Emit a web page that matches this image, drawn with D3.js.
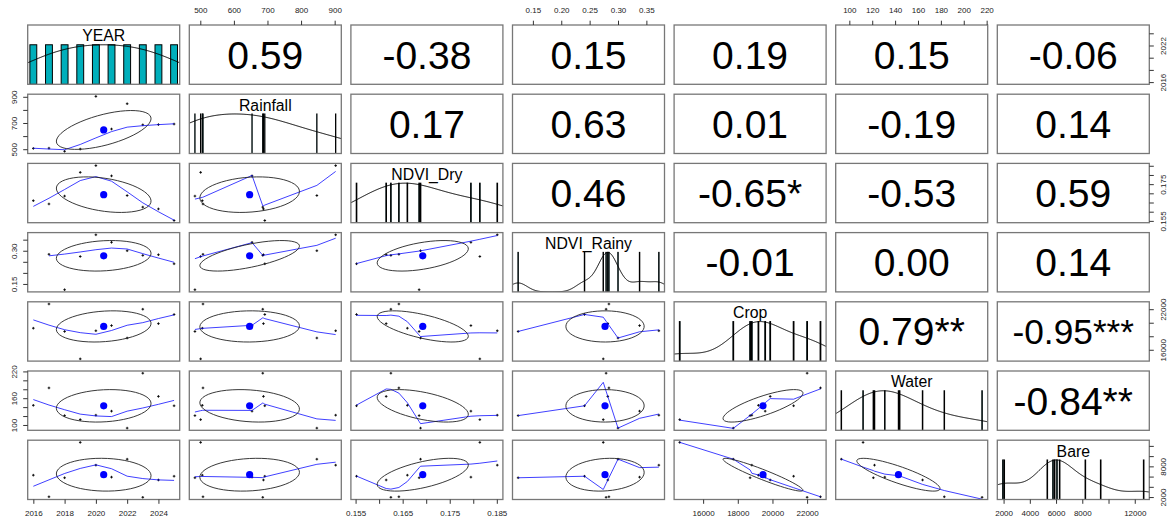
<html>
<head>
<script src="https://d3js.org/d3.v7.min.js"></script>
<style>
  body { margin: 0; background: #ffffff; }
  text { font-family: "Liberation Sans", Arial, sans-serif; }
</style>
</head>
<body>
<script>
// values, one per year (NDVI_Rainy has no 2016 value)
var varNames = ["YEAR", "Rainfall", "NDVI_Dry", "NDVI_Rainy", "Crop", "Water", "Bare"];
var year = [2016, 2017, 2018, 2019, 2020, 2021, 2022, 2023, 2024, 2025];
var rainfall = [506, 508, 484, 501, 903, 654, 847, 686, 688, 692];
var ndviDry = [0.1660, 0.1642, 0.1685, 0.1814, 0.1851, 0.1795, 0.1688, 0.1625, 0.1615, 0.1552];
var ndviRainy = [null, 0.284, 0.124, 0.274, 0.372, 0.338, 0.300, 0.279, 0.282, 0.241];
var crop = [19190, 22770, 18710, 14650, 18810, 19580, 17740, 22000, 19870, 21220];
var water = [144, 183, 121, 112, 122, 131, 93, 216, 164, 143];
var bare = [6275, 2050, 5766, 12680, 8234, 5893, 9404, 1950, 5333, 6071];

// correlation labels of the upper panels, row by row
var corYear = ["0.59", "-0.38", "0.15", "0.19", "0.15", "-0.06"];
var corRainfall = ["0.17", "0.63", "0.01", "-0.19", "0.14"];
var corNdviDry = ["0.46", "-0.65*", "-0.53", "0.59"];
var corNdviRainy = ["-0.01", "0.00", "0.14"];
var corCrop = ["0.79**", "-0.95***"];
var corWater = ["-0.84**"];

// axis ticks, labels on horizontal axes, labels on vertical axes
var yearTicks = [2016, 2018, 2020, 2022, 2024];
var yearLabH = ["2016", "2018", "2020", "2022", "2024"];
var yearLabV = ["2016", "", "", "2022", ""];
var rainTicks = [500, 600, 700, 800, 900];
var rainLabH = ["500", "600", "700", "800", "900"];
var rainLabV = ["500", "", "700", "", "900"];
var dryTicks = [0.155, 0.160, 0.165, 0.170, 0.175, 0.180, 0.185];
var dryLabH = ["0.155", "", "0.165", "", "0.175", "", "0.185"];
var dryLabV = ["0.155", "", "", "", "0.175", "", ""];
var rainyTicks = [0.15, 0.20, 0.25, 0.30, 0.35];
var rainyLabH = ["0.15", "0.20", "0.25", "0.30", "0.35"];
var rainyLabV = ["0.15", "", "", "0.30", ""];
var cropTicks = [16000, 18000, 20000, 22000];
var cropLabH = ["16000", "18000", "20000", "22000"];
var cropLabV = ["16000", "", "", "22000"];
var waterTicks = [100, 120, 140, 160, 180, 200, 220];
var waterLabH = ["100", "120", "140", "160", "180", "200", "220"];
var waterLabV = ["100", "", "", "160", "", "", "220"];
var bareTicks = [2000, 4000, 6000, 8000, 10000, 12000];
var bareLabH = ["2000", "4000", "6000", "8000", "", "12000"];
var bareLabV = ["2000", "", "", "8000", "", ""];

var histCol = "#00AFBB";
var smoothCol = "#0000FF";

var vars = [
  {name: varNames[0], v: year, ticks: yearTicks, labH: yearLabH, labV: yearLabV},
  {name: varNames[1], v: rainfall, ticks: rainTicks, labH: rainLabH, labV: rainLabV},
  {name: varNames[2], v: ndviDry, ticks: dryTicks, labH: dryLabH, labV: dryLabV},
  {name: varNames[3], v: ndviRainy, ticks: rainyTicks, labH: rainyLabH, labV: rainyLabV},
  {name: varNames[4], v: crop, ticks: cropTicks, labH: cropLabH, labV: cropLabV},
  {name: varNames[5], v: water, ticks: waterTicks, labH: waterLabH, labV: waterLabV},
  {name: varNames[6], v: bare, ticks: bareTicks, labH: bareLabH, labV: bareLabV}
];
var corRows = [corYear, corRainfall, corNdviDry, corNdviRainy, corCrop, corWater];

var width = 1168, height = 522;
var left0 = 27.7, top0 = 25, pw = 152, ph = 59.3, stepX = 161.6, stepY = 69.2;
var nv = vars.length;
var panelX = function(i) { return left0 + i * stepX; };
var panelY = function(j) { return top0 + j * stepY; };

var clean = function(a) { return a.filter(function(d) { return d !== null; }); };
var ext = function(a) {
  var e = d3.extent(clean(a)), r = e[1] - e[0];
  return [e[0] - 0.04 * r, e[1] + 0.04 * r];
};

var xScales = vars.map(function(d, i) {
  return d3.scaleLinear().domain(ext(d.v)).range([panelX(i), panelX(i) + pw]);
});
var yScales = vars.map(function(d, j) {
  return d3.scaleLinear().domain(ext(d.v)).range([panelY(j) + ph, panelY(j)]);
});

// R-style lowess (clowess)
var lowess = function(xs0, ys0, f, iter) {
  var idx = d3.range(xs0.length).sort(function(a, b) { return xs0[a] - xs0[b]; });
  var x = idx.map(function(k) { return xs0[k]; });
  var y = idx.map(function(k) { return ys0[k]; });
  var n = x.length;
  var range = x[n - 1] - x[0];
  var delta = 0.01 * range;
  var ns = Math.max(Math.min(Math.floor(f * n + 1e-7), n), 2);
  var ys = new Array(n).fill(0), rw = new Array(n).fill(1), res = new Array(n).fill(0);
  var w = new Array(n).fill(0);
  var lowest = function(xs, nleft, nright, userw) {
    var h = Math.max(xs - x[nleft], x[nright] - xs);
    var h9 = 0.999 * h, h1 = 0.001 * h, a = 0, j = nleft;
    while (j < n) {
      w[j] = 0;
      var r = Math.abs(x[j] - xs);
      if (r <= h9) {
        if (r <= h1) w[j] = 1;
        else w[j] = Math.pow(1 - Math.pow(r / h, 3), 3);
        if (userw) w[j] *= rw[j];
        a += w[j];
      } else if (x[j] > xs) break;
      j++;
    }
    var nrt = j - 1;
    if (a <= 0) return null;
    for (j = nleft; j <= nrt; j++) w[j] /= a;
    if (h > 0) {
      a = 0;
      for (j = nleft; j <= nrt; j++) a += w[j] * x[j];
      var b = xs - a, c = 0;
      for (j = nleft; j <= nrt; j++) c += w[j] * (x[j] - a) * (x[j] - a);
      if (Math.sqrt(c) > 0.001 * range) {
        b /= c;
        for (j = nleft; j <= nrt; j++) w[j] *= (b * (x[j] - a) + 1);
      }
    }
    var out = 0;
    for (j = nleft; j <= nrt; j++) out += w[j] * y[j];
    return out;
  };
  for (var it = 1; it <= iter + 1; it++) {
    var nleft = 0, nright = ns - 1, last = -1, i = 0;
    for (;;) {
      while (nright < n - 1) {
        var d1 = x[i] - x[nleft], d2 = x[nright + 1] - x[i];
        if (d1 <= d2) break;
        nleft++; nright++;
      }
      var v = lowest(x[i], nleft, nright, it > 1);
      ys[i] = v === null ? y[i] : v;
      if (last < i - 1) {
        var denom = x[i] - x[last];
        for (var j = last + 1; j < i; j++) {
          var alpha = (x[j] - x[last]) / denom;
          ys[j] = alpha * ys[i] + (1 - alpha) * ys[last];
        }
      }
      last = i;
      var cut = x[last] + delta;
      for (i = last + 1; i < n; i++) {
        if (x[i] > cut) break;
        if (x[i] === x[last]) { ys[i] = ys[last]; last = i; }
      }
      i = Math.max(last + 1, i - 1);
      if (last >= n - 1) break;
    }
    for (var k = 0; k < n; k++) res[k] = y[k] - ys[k];
    if (it > iter) break;
    var sc = d3.sum(res, function(r) { return Math.abs(r); }) / n;
    var cmad = 6 * d3.median(res.map(Math.abs));
    if (cmad < 1e-7 * sc) break;
    var c9 = 0.999 * cmad, c1 = 0.001 * cmad;
    for (k = 0; k < n; k++) {
      var rr = Math.abs(res[k]);
      rw[k] = rr <= c1 ? 1 : (rr <= c9 ? Math.pow(1 - Math.pow(rr / cmad, 2), 2) : 0);
    }
  }
  return x.map(function(xx, k) { return [xx, ys[k]]; });
};

// gaussian density, bw "nrd" with adjust 1.2 as pairs.panels asks for
var density = function(a) {
  var s = a.slice().sort(d3.ascending);
  var n = s.length;
  var sd = d3.deviation(s);
  var iqr = d3.quantileSorted(s, 0.75) - d3.quantileSorted(s, 0.25);
  var lo = Math.min(sd, iqr / 1.34);
  var bw = 1.2 * 1.06 * lo * Math.pow(n, -0.2);
  var g0 = s[0] - 3 * bw, g1 = s[n - 1] + 3 * bw;
  var pts = d3.range(512).map(function(k) {
    var gx = g0 + (g1 - g0) * k / 511;
    var dy = d3.sum(s, function(xi) {
      var u = (gx - xi) / bw;
      return Math.exp(-0.5 * u * u);
    });
    return [gx, dy];
  });
  var m = d3.max(pts, function(p) { return p[1]; });
  return pts.map(function(p) { return [p[0], p[1] / m]; });
};

var svg = d3.select("body").append("svg")
  .attr("width", width)
  .attr("height", height);

var defs = svg.append("defs");

// size of the correlation text, fitted as in pairs.panels
var probe = svg.append("text").attr("font-size", 100).text("0.12***");
var refWidth = probe.node().getComputedTextLength();
probe.remove();

for (var j = 0; j < nv; j++) {
  for (var i = 0; i < nv; i++) {
    var px = panelX(i), py = panelY(j);
    var clipId = "clip" + j + "_" + i;
    defs.append("clipPath").attr("id", clipId)
      .append("rect").attr("x", px).attr("y", py).attr("width", pw).attr("height", ph);
    var g = svg.append("g").attr("clip-path", "url(#" + clipId + ")");

    if (i === j) {
      var vals = clean(vars[i].v);
      var xs = xScales[i];
      var hy = d3.scaleLinear().domain([0, 1.5]).range([py + ph, py]);
      var uniq = Array.from(new Set(vals)).sort(d3.ascending);
      var diffs = d3.pairs(uniq).map(function(p) { return p[1] - p[0]; });
      var ib = d3.min(diffs) * (uniq.length - 1) / 41;
      g.selectAll("rect.bar")
        .data(uniq)
        .enter()
        .append("rect")
        .attr("class", "bar")
        .attr("x", function(d) { return xs(d - ib); })
        .attr("y", hy(1))
        .attr("width", function(d) { return Math.max(xs(d + ib) - xs(d - ib), 0.01); })
        .attr("height", hy(0) - hy(1))
        .attr("fill", histCol)
        .attr("stroke", "#000")
        .attr("stroke-width", 1);
      var line = d3.line()
        .x(function(d) { return xs(d[0]); })
        .y(function(d) { return hy(d[1]); });
      g.append("path")
        .datum(density(vals))
        .attr("d", line)
        .attr("fill", "none")
        .attr("stroke", "#000")
        .attr("stroke-width", 1);
      svg.append("text")
        .attr("x", px + pw / 2)
        .attr("y", py + 10.8 + 0.358 * 15.8)
        .attr("text-anchor", "middle")
        .attr("font-size", 15.8)
        .attr("fill", "#000")
        .text(vars[i].name);
    } else if (i > j) {
      var txt = corRows[j][i - j - 1];
      var t = svg.append("text")
        .attr("x", px + pw / 2)
        .attr("text-anchor", "middle")
        .attr("font-size", 100)
        .attr("fill", "#000")
        .text(txt);
      var tw = t.node().getComputedTextLength();
      var fs = 0.8 * pw * 100 / Math.max(refWidth, tw);
      t.attr("font-size", fs)
        .attr("y", py + ph / 2 + 0.358 * fs);
    } else {
      var xsc = xScales[i], ysc = yScales[j];
      var xv = vars[i].v, yv = vars[j].v;
      var pairs = d3.range(xv.length)
        .filter(function(k) { return xv[k] !== null && yv[k] !== null; })
        .map(function(k) { return [xv[k], yv[k]]; });

      g.selectAll("path.pt")
        .data(pairs)
        .enter()
        .append("path")
        .attr("class", "pt")
        .attr("d", function(d) {
          var cx = xsc(d[0]), cy = ysc(d[1]);
          return "M" + (cx - 1.3) + "," + cy + "h2.6M" + cx + "," + (cy - 1.3) + "v2.6";
        })
        .attr("stroke", "#000")
        .attr("stroke-width", 0.9);

      var sm = lowess(pairs.map(function(p) { return p[0]; }), pairs.map(function(p) { return p[1]; }), 2 / 3, 3);
      g.append("path")
        .datum(sm)
        .attr("d", d3.line()
          .x(function(d) { return xsc(d[0]); })
          .y(function(d) { return ysc(d[1]); }))
        .attr("fill", "none")
        .attr("stroke", smoothCol)
        .attr("stroke-opacity", 0.75)
        .attr("stroke-width", 1);

      // correlation ellipse (one sd), as in psych::draw.ellipse
      var xm = d3.mean(clean(xv)), ym = d3.mean(clean(yv));
      var xsd = d3.deviation(clean(xv)), ysd = d3.deviation(clean(yv));
      var px2 = pairs.map(function(p) { return p[0]; }), py2 = pairs.map(function(p) { return p[1]; });
      var mx = d3.mean(px2), my = d3.mean(py2);
      var r = d3.sum(pairs, function(p) { return (p[0] - mx) * (p[1] - my); }) /
        Math.sqrt(d3.sum(px2, function(a) { return (a - mx) * (a - mx); }) * d3.sum(py2, function(b) { return (b - my) * (b - my); }));
      var theta = Math.abs(r) > 0 ? Math.sign(r) / Math.SQRT2 : 1 / Math.SQRT2;
      var ell = d3.range(52).map(function(k) {
        var ang = k * 2 * Math.PI / 51;
        var c = Math.cos(ang), s = Math.sin(ang);
        var ex = c * Math.sqrt(1 + r) * theta - s * Math.sqrt(1 - r) * theta;
        var ey = c * Math.sqrt(1 + r) * theta + s * Math.sqrt(1 - r) * theta;
        return [ex * xsd + xm, ey * ysd + ym];
      });
      g.append("circle")
        .attr("cx", xsc(xm))
        .attr("cy", ysc(ym))
        .attr("r", 3.6)
        .attr("fill", smoothCol);
      g.append("path")
        .datum(ell)
        .attr("d", d3.line()
          .x(function(d) { return xsc(d[0]); })
          .y(function(d) { return ysc(d[1]); }))
        .attr("fill", "none")
        .attr("stroke", "#222")
        .attr("stroke-width", 0.9);
    }

    svg.append("rect")
      .attr("x", px)
      .attr("y", py)
      .attr("width", pw)
      .attr("height", ph)
      .attr("fill", "none")
      .attr("stroke", "#777")
      .attr("stroke-width", 1.3);
  }
}

// axes: top for even columns, bottom for odd columns, left/right for rows likewise
var styleAxis = function(sel) {
  sel.select(".domain").remove();
  sel.selectAll(".tick line").attr("stroke", "#333");
  sel.selectAll(".tick text").attr("fill", "#222").attr("font-size", 8)
    .attr("font-family", "Liberation Sans, Arial, sans-serif");
};

vars.forEach(function(d, i) {
  var fmtH = function(t, k) { return d.labH[k]; };
  var fmtV = function(t, k) { return d.labV[k]; };
  if (i % 2 === 1) {
    var top = svg.append("g")
      .attr("transform", "translate(0," + top0 + ")")
      .call(d3.axisTop(xScales[i]).tickValues(d.ticks).tickSize(4.3).tickFormat(fmtH));
    styleAxis(top);
    top.selectAll(".tick text").attr("y", -12.3).attr("dy", 0);
    var lft = svg.append("g")
      .attr("transform", "translate(" + left0 + ",0)")
      .call(d3.axisLeft(yScales[i]).tickValues(d.ticks).tickSize(4.5).tickFormat(fmtV));
    styleAxis(lft);
    lft.selectAll(".tick text")
      .attr("transform", "rotate(-90)")
      .attr("text-anchor", "middle")
      .attr("x", 0).attr("y", -11).attr("dy", 0);
  } else {
    var bot = svg.append("g")
      .attr("transform", "translate(0," + (panelY(nv - 1) + ph) + ")")
      .call(d3.axisBottom(xScales[i]).tickValues(d.ticks).tickSize(4.3).tickFormat(fmtH));
    styleAxis(bot);
    bot.selectAll(".tick text").attr("y", 16.8).attr("dy", 0);
    var rgt = svg.append("g")
      .attr("transform", "translate(" + (panelX(nv - 1) + pw) + ",0)")
      .call(d3.axisRight(yScales[i]).tickValues(d.ticks).tickSize(4.5).tickFormat(fmtV));
    styleAxis(rgt);
    rgt.selectAll(".tick text")
      .attr("transform", "rotate(-90)")
      .attr("text-anchor", "middle")
      .attr("x", 0).attr("y", 16.8).attr("dy", 0);
  }
});
</script>
</body>
</html>
